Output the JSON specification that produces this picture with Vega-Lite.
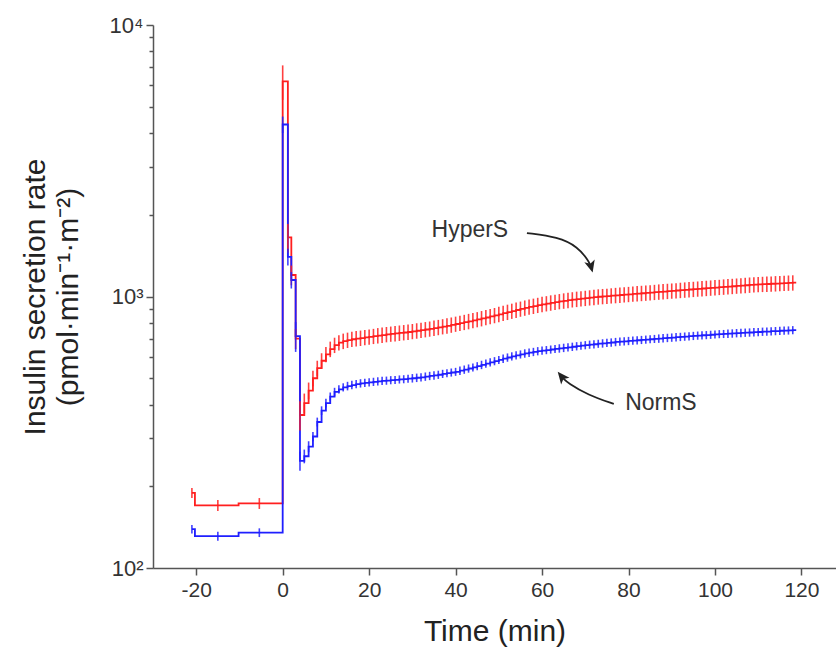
{
  "$schema": "https://vega.github.io/schema/vega-lite/v6.json",
  "width": 683,
  "height": 543,
  "autosize": {"type": "none"},
  "padding": {"left": 153, "top": 25, "right": 0, "bottom": 86},
  "background": "white",
  "config": {
    "view": {"stroke": null},
    "axis": {
      "domainColor": "#555555", "domainWidth": 1.5,
      "tickColor": "#555555", "tickWidth": 1.5,
      "labelColor": "#333333", "labelFont": "Liberation Sans", "labelFontSize": 21,
      "titleColor": "#222222", "titleFont": "Liberation Sans", "titleFontSize": 30, "titleFontWeight": "normal",
      "grid": false
    }
  },
  "datasets": {
    "curves": [
      {"s":"HyperS","t":-21,"v":189,"e":8},
      {"s":"HyperS","t":-20.3,"v":170,"e":null},
      {"s":"HyperS","t":-15,"v":170,"e":8},
      {"s":"HyperS","t":-10.2,"v":173,"e":null},
      {"s":"HyperS","t":-5.4,"v":173,"e":8},
      {"s":"HyperS","t":0,"v":6200,"e":900},
      {"s":"HyperS","t":1.2,"v":1650,"e":200},
      {"s":"HyperS","t":2,"v":1200,"e":100},
      {"s":"HyperS","t":3,"v":700,"e":60},
      {"s":"HyperS","t":4,"v":366,"e":45},
      {"s":"HyperS","t":5,"v":405,"e":34},
      {"s":"HyperS","t":6,"v":450,"e":32},
      {"s":"HyperS","t":7,"v":500,"e":33},
      {"s":"HyperS","t":8,"v":545,"e":35},
      {"s":"HyperS","t":9,"v":580,"e":38},
      {"s":"HyperS","t":10,"v":612,"e":40},
      {"s":"HyperS","t":11,"v":640,"e":42},
      {"s":"HyperS","t":12,"v":662,"e":43},
      {"s":"HyperS","t":13,"v":676,"e":44},
      {"s":"HyperS","t":14,"v":685,"e":45},
      {"s":"HyperS","t":15,"v":691,"e":45},
      {"s":"HyperS","t":16,"v":696,"e":45},
      {"s":"HyperS","t":17,"v":700,"e":46},
      {"s":"HyperS","t":18,"v":703,"e":46},
      {"s":"HyperS","t":19,"v":707,"e":46},
      {"s":"HyperS","t":20,"v":710,"e":46},
      {"s":"HyperS","t":21,"v":714,"e":46},
      {"s":"HyperS","t":22,"v":718,"e":47},
      {"s":"HyperS","t":23,"v":721,"e":47},
      {"s":"HyperS","t":24,"v":725,"e":47},
      {"s":"HyperS","t":25,"v":728,"e":47},
      {"s":"HyperS","t":26,"v":731,"e":48},
      {"s":"HyperS","t":27,"v":734,"e":48},
      {"s":"HyperS","t":28,"v":737,"e":48},
      {"s":"HyperS","t":29,"v":740,"e":48},
      {"s":"HyperS","t":30,"v":744,"e":48},
      {"s":"HyperS","t":31,"v":748,"e":49},
      {"s":"HyperS","t":32,"v":752,"e":49},
      {"s":"HyperS","t":33,"v":756,"e":49},
      {"s":"HyperS","t":34,"v":760,"e":49},
      {"s":"HyperS","t":35,"v":765,"e":50},
      {"s":"HyperS","t":36,"v":770,"e":50},
      {"s":"HyperS","t":37,"v":775,"e":50},
      {"s":"HyperS","t":38,"v":780,"e":51},
      {"s":"HyperS","t":39,"v":786,"e":51},
      {"s":"HyperS","t":40,"v":792,"e":51},
      {"s":"HyperS","t":41,"v":798,"e":52},
      {"s":"HyperS","t":42,"v":804,"e":52},
      {"s":"HyperS","t":43,"v":810,"e":53},
      {"s":"HyperS","t":44,"v":817,"e":53},
      {"s":"HyperS","t":45,"v":823,"e":53},
      {"s":"HyperS","t":46,"v":830,"e":54},
      {"s":"HyperS","t":47,"v":837,"e":54},
      {"s":"HyperS","t":48,"v":845,"e":55},
      {"s":"HyperS","t":49,"v":852,"e":55},
      {"s":"HyperS","t":50,"v":860,"e":56},
      {"s":"HyperS","t":51,"v":868,"e":56},
      {"s":"HyperS","t":52,"v":876,"e":57},
      {"s":"HyperS","t":53,"v":884,"e":57},
      {"s":"HyperS","t":54,"v":892,"e":58},
      {"s":"HyperS","t":55,"v":900,"e":58},
      {"s":"HyperS","t":56,"v":908,"e":59},
      {"s":"HyperS","t":57,"v":915,"e":59},
      {"s":"HyperS","t":58,"v":922,"e":60},
      {"s":"HyperS","t":59,"v":929,"e":60},
      {"s":"HyperS","t":60,"v":936,"e":61},
      {"s":"HyperS","t":61,"v":942,"e":61},
      {"s":"HyperS","t":62,"v":948,"e":62},
      {"s":"HyperS","t":63,"v":954,"e":62},
      {"s":"HyperS","t":64,"v":959,"e":62},
      {"s":"HyperS","t":65,"v":964,"e":63},
      {"s":"HyperS","t":66,"v":969,"e":63},
      {"s":"HyperS","t":67,"v":974,"e":63},
      {"s":"HyperS","t":68,"v":978,"e":64},
      {"s":"HyperS","t":69,"v":982,"e":64},
      {"s":"HyperS","t":70,"v":986,"e":64},
      {"s":"HyperS","t":71,"v":990,"e":64},
      {"s":"HyperS","t":72,"v":994,"e":65},
      {"s":"HyperS","t":73,"v":998,"e":65},
      {"s":"HyperS","t":74,"v":1001,"e":65},
      {"s":"HyperS","t":75,"v":1004,"e":65},
      {"s":"HyperS","t":76,"v":1007,"e":65},
      {"s":"HyperS","t":77,"v":1010,"e":66},
      {"s":"HyperS","t":78,"v":1013,"e":66},
      {"s":"HyperS","t":79,"v":1016,"e":66},
      {"s":"HyperS","t":80,"v":1019,"e":66},
      {"s":"HyperS","t":81,"v":1022,"e":66},
      {"s":"HyperS","t":82,"v":1025,"e":67},
      {"s":"HyperS","t":83,"v":1028,"e":67},
      {"s":"HyperS","t":84,"v":1031,"e":67},
      {"s":"HyperS","t":85,"v":1034,"e":67},
      {"s":"HyperS","t":86,"v":1037,"e":67},
      {"s":"HyperS","t":87,"v":1040,"e":68},
      {"s":"HyperS","t":88,"v":1043,"e":68},
      {"s":"HyperS","t":89,"v":1046,"e":68},
      {"s":"HyperS","t":90,"v":1049,"e":68},
      {"s":"HyperS","t":91,"v":1052,"e":68},
      {"s":"HyperS","t":92,"v":1055,"e":69},
      {"s":"HyperS","t":93,"v":1058,"e":69},
      {"s":"HyperS","t":94,"v":1061,"e":69},
      {"s":"HyperS","t":95,"v":1064,"e":69},
      {"s":"HyperS","t":96,"v":1067,"e":69},
      {"s":"HyperS","t":97,"v":1070,"e":70},
      {"s":"HyperS","t":98,"v":1073,"e":70},
      {"s":"HyperS","t":99,"v":1076,"e":70},
      {"s":"HyperS","t":100,"v":1079,"e":70},
      {"s":"HyperS","t":101,"v":1082,"e":70},
      {"s":"HyperS","t":102,"v":1085,"e":71},
      {"s":"HyperS","t":103,"v":1088,"e":71},
      {"s":"HyperS","t":104,"v":1091,"e":71},
      {"s":"HyperS","t":105,"v":1094,"e":71},
      {"s":"HyperS","t":106,"v":1097,"e":71},
      {"s":"HyperS","t":107,"v":1100,"e":72},
      {"s":"HyperS","t":108,"v":1103,"e":72},
      {"s":"HyperS","t":109,"v":1106,"e":72},
      {"s":"HyperS","t":110,"v":1108,"e":72},
      {"s":"HyperS","t":111,"v":1110,"e":72},
      {"s":"HyperS","t":112,"v":1112,"e":72},
      {"s":"HyperS","t":113,"v":1114,"e":72},
      {"s":"HyperS","t":114,"v":1116,"e":73},
      {"s":"HyperS","t":115,"v":1118,"e":73},
      {"s":"HyperS","t":116,"v":1120,"e":73},
      {"s":"HyperS","t":117,"v":1122,"e":73},
      {"s":"HyperS","t":118,"v":1124,"e":73},
      {"s":"HyperS","t":118.8,"v":1124,"e":null},
      {"s":"NormS","t":-21,"v":139,"e":5},
      {"s":"NormS","t":-20.3,"v":131,"e":null},
      {"s":"NormS","t":-15,"v":131,"e":5},
      {"s":"NormS","t":-10.2,"v":135,"e":null},
      {"s":"NormS","t":-5.4,"v":135,"e":5},
      {"s":"NormS","t":0,"v":4300,"e":300},
      {"s":"NormS","t":1.2,"v":1400,"e":100},
      {"s":"NormS","t":2,"v":1150,"e":80},
      {"s":"NormS","t":3,"v":715,"e":90},
      {"s":"NormS","t":4,"v":248,"e":20},
      {"s":"NormS","t":5,"v":258,"e":15},
      {"s":"NormS","t":6,"v":280,"e":13},
      {"s":"NormS","t":7,"v":305,"e":12},
      {"s":"NormS","t":8,"v":345,"e":13},
      {"s":"NormS","t":9,"v":380,"e":14},
      {"s":"NormS","t":10,"v":405,"e":15},
      {"s":"NormS","t":11,"v":428,"e":15},
      {"s":"NormS","t":12,"v":445,"e":16},
      {"s":"NormS","t":13,"v":455,"e":16},
      {"s":"NormS","t":14,"v":463,"e":16},
      {"s":"NormS","t":15,"v":468,"e":17},
      {"s":"NormS","t":16,"v":472,"e":17},
      {"s":"NormS","t":17,"v":476,"e":17},
      {"s":"NormS","t":18,"v":479,"e":17},
      {"s":"NormS","t":19,"v":481,"e":17},
      {"s":"NormS","t":20,"v":483,"e":17},
      {"s":"NormS","t":21,"v":485,"e":17},
      {"s":"NormS","t":22,"v":487,"e":17},
      {"s":"NormS","t":23,"v":489,"e":17},
      {"s":"NormS","t":24,"v":490,"e":17},
      {"s":"NormS","t":25,"v":492,"e":17},
      {"s":"NormS","t":26,"v":493,"e":17},
      {"s":"NormS","t":27,"v":495,"e":17},
      {"s":"NormS","t":28,"v":496,"e":17},
      {"s":"NormS","t":29,"v":498,"e":17},
      {"s":"NormS","t":30,"v":500,"e":18},
      {"s":"NormS","t":31,"v":502,"e":18},
      {"s":"NormS","t":32,"v":504,"e":18},
      {"s":"NormS","t":33,"v":507,"e":18},
      {"s":"NormS","t":34,"v":510,"e":18},
      {"s":"NormS","t":35,"v":512,"e":18},
      {"s":"NormS","t":36,"v":515,"e":18},
      {"s":"NormS","t":37,"v":519,"e":18},
      {"s":"NormS","t":38,"v":522,"e":18},
      {"s":"NormS","t":39,"v":525,"e":18},
      {"s":"NormS","t":40,"v":528,"e":18},
      {"s":"NormS","t":41,"v":533,"e":19},
      {"s":"NormS","t":42,"v":538,"e":19},
      {"s":"NormS","t":43,"v":543,"e":19},
      {"s":"NormS","t":44,"v":548,"e":19},
      {"s":"NormS","t":45,"v":554,"e":19},
      {"s":"NormS","t":46,"v":560,"e":20},
      {"s":"NormS","t":47,"v":566,"e":20},
      {"s":"NormS","t":48,"v":572,"e":20},
      {"s":"NormS","t":49,"v":578,"e":20},
      {"s":"NormS","t":50,"v":584,"e":20},
      {"s":"NormS","t":51,"v":590,"e":21},
      {"s":"NormS","t":52,"v":596,"e":21},
      {"s":"NormS","t":53,"v":602,"e":21},
      {"s":"NormS","t":54,"v":607,"e":21},
      {"s":"NormS","t":55,"v":612,"e":21},
      {"s":"NormS","t":56,"v":617,"e":22},
      {"s":"NormS","t":57,"v":621,"e":22},
      {"s":"NormS","t":58,"v":625,"e":22},
      {"s":"NormS","t":59,"v":629,"e":22},
      {"s":"NormS","t":60,"v":632,"e":22},
      {"s":"NormS","t":61,"v":635,"e":22},
      {"s":"NormS","t":62,"v":638,"e":22},
      {"s":"NormS","t":63,"v":641,"e":22},
      {"s":"NormS","t":64,"v":644,"e":23},
      {"s":"NormS","t":65,"v":647,"e":23},
      {"s":"NormS","t":66,"v":650,"e":23},
      {"s":"NormS","t":67,"v":653,"e":23},
      {"s":"NormS","t":68,"v":656,"e":23},
      {"s":"NormS","t":69,"v":659,"e":23},
      {"s":"NormS","t":70,"v":662,"e":23},
      {"s":"NormS","t":71,"v":665,"e":23},
      {"s":"NormS","t":72,"v":667,"e":23},
      {"s":"NormS","t":73,"v":670,"e":23},
      {"s":"NormS","t":74,"v":672,"e":24},
      {"s":"NormS","t":75,"v":675,"e":24},
      {"s":"NormS","t":76,"v":677,"e":24},
      {"s":"NormS","t":77,"v":680,"e":24},
      {"s":"NormS","t":78,"v":682,"e":24},
      {"s":"NormS","t":79,"v":684,"e":24},
      {"s":"NormS","t":80,"v":686,"e":24},
      {"s":"NormS","t":81,"v":688,"e":24},
      {"s":"NormS","t":82,"v":690,"e":24},
      {"s":"NormS","t":83,"v":692,"e":24},
      {"s":"NormS","t":84,"v":694,"e":24},
      {"s":"NormS","t":85,"v":696,"e":24},
      {"s":"NormS","t":86,"v":698,"e":24},
      {"s":"NormS","t":87,"v":700,"e":25},
      {"s":"NormS","t":88,"v":702,"e":25},
      {"s":"NormS","t":89,"v":704,"e":25},
      {"s":"NormS","t":90,"v":706,"e":25},
      {"s":"NormS","t":91,"v":708,"e":25},
      {"s":"NormS","t":92,"v":710,"e":25},
      {"s":"NormS","t":93,"v":712,"e":25},
      {"s":"NormS","t":94,"v":714,"e":25},
      {"s":"NormS","t":95,"v":716,"e":25},
      {"s":"NormS","t":96,"v":718,"e":25},
      {"s":"NormS","t":97,"v":720,"e":25},
      {"s":"NormS","t":98,"v":721,"e":25},
      {"s":"NormS","t":99,"v":723,"e":25},
      {"s":"NormS","t":100,"v":725,"e":25},
      {"s":"NormS","t":101,"v":727,"e":25},
      {"s":"NormS","t":102,"v":728,"e":25},
      {"s":"NormS","t":103,"v":730,"e":26},
      {"s":"NormS","t":104,"v":731,"e":26},
      {"s":"NormS","t":105,"v":733,"e":26},
      {"s":"NormS","t":106,"v":734,"e":26},
      {"s":"NormS","t":107,"v":736,"e":26},
      {"s":"NormS","t":108,"v":737,"e":26},
      {"s":"NormS","t":109,"v":739,"e":26},
      {"s":"NormS","t":110,"v":740,"e":26},
      {"s":"NormS","t":111,"v":742,"e":26},
      {"s":"NormS","t":112,"v":743,"e":26},
      {"s":"NormS","t":113,"v":745,"e":26},
      {"s":"NormS","t":114,"v":746,"e":26},
      {"s":"NormS","t":115,"v":748,"e":26},
      {"s":"NormS","t":116,"v":749,"e":26},
      {"s":"NormS","t":117,"v":750,"e":26},
      {"s":"NormS","t":118,"v":752,"e":26},
      {"s":"NormS","t":118.8,"v":752,"e":null}
    ],
    "arrows": [
      {"a":"HyperS","o":1,"t":56.5,"v":1713},
      {"a":"HyperS","o":2,"t":63.7,"v":1657},
      {"a":"HyperS","o":3,"t":68.3,"v":1522},
      {"a":"HyperS","o":4,"t":70.6,"v":1363},
      {"a":"HyperS","o":5,"t":71.3,"v":1295},
      {"a":"NormS","o":1,"t":76.6,"v":402},
      {"a":"NormS","o":2,"t":70.6,"v":434},
      {"a":"NormS","o":3,"t":66.0,"v":480},
      {"a":"NormS","o":4,"t":64.8,"v":501}
    ],
    "heads": [
      {"a":"HyperS","t":71.3,"v":1295},
      {"a":"NormS","t":64.6,"v":505}
    ],
    "labels": [
      {"label":"HyperS","t":43.3,"v":1758},
      {"label":"NormS","t":87.5,"v":405}
    ]
  },
  "encoding": {
    "x": {
      "field": "t", "type": "quantitative",
      "scale": {"domain": [-30, 128], "nice": false, "zero": false},
      "axis": {
        "values": [-20, 0, 20, 40, 60, 80, 100, 120],
        "labelExpr": "datum.value < 0 ? '-' + abs(datum.value) : datum.label",
        "tickSize": 7, "labelPadding": 4, "labelFlush": false,
        "title": "Time (min)", "titlePadding": 16
      }
    },
    "y": {
      "field": "v", "type": "quantitative",
      "scale": {"type": "log", "domain": [100, 10000], "nice": false},
      "axis": {
        "values": [100,200,300,400,500,600,700,800,900,1000,2000,3000,4000,5000,6000,7000,8000,9000,10000],
        "labelExpr": "datum.value == 100 ? '10²' : datum.value == 1000 ? '10³' : datum.value == 10000 ? '10⁴' : ''",
        "tickSize": {"condition": {"test": "datum.value == 100 || datum.value == 1000 || datum.value == 10000", "value": 7}, "value": 4},
        "labelPadding": 3, "labelFlush": false, "labelFontSize": 22,
        "title": ["Insulin secretion rate", "(pmol·min⁻¹·m⁻²)"],
        "titleLineHeight": 33, "titlePadding": 26
      }
    }
  },
  "layer": [
    {
      "data": {"name": "curves"},
      "mark": {"type": "line", "interpolate": "step-after", "strokeWidth": 1.8},
      "encoding": {
        "color": {"field": "s", "type": "nominal", "scale": {"domain": ["HyperS", "NormS"], "range": ["#ff1f1f", "#1f1fff"]}, "legend": null}
      }
    },
    {
      "data": {"name": "curves"},
      "transform": [{"filter": "datum.e != null"}],
      "mark": {"type": "errorbar", "thickness": 1.6, "opacity": 0.85},
      "encoding": {
        "yError": {"field": "e"},
        "color": {"field": "s", "type": "nominal", "legend": null}
      }
    },
    {
      "data": {"name": "arrows"},
      "mark": {"type": "line", "interpolate": "basis", "color": "#222222", "strokeWidth": 1.8},
      "encoding": {
        "detail": {"field": "a"},
        "order": {"field": "o", "type": "quantitative"}
      }
    },
    {
      "data": {"name": "heads"},
      "transform": [{"filter": "datum.a == 'HyperS'"}],
      "mark": {"type": "point", "shape": "M0,-1L0.8,0.8L0,0.35L-0.8,0.8Z", "filled": true, "color": "#222222", "opacity": 1, "size": 180, "angle": 165}
    },
    {
      "data": {"name": "heads"},
      "transform": [{"filter": "datum.a == 'NormS'"}],
      "mark": {"type": "point", "shape": "M0,-1L0.8,0.8L0,0.35L-0.8,0.8Z", "filled": true, "color": "#222222", "opacity": 1, "size": 180, "angle": 321}
    },
    {
      "data": {"name": "labels"},
      "mark": {"type": "text", "font": "Liberation Sans", "fontSize": 23, "color": "#333333", "align": "center", "baseline": "middle"},
      "encoding": {"text": {"field": "label"}}
    }
  ]
}
